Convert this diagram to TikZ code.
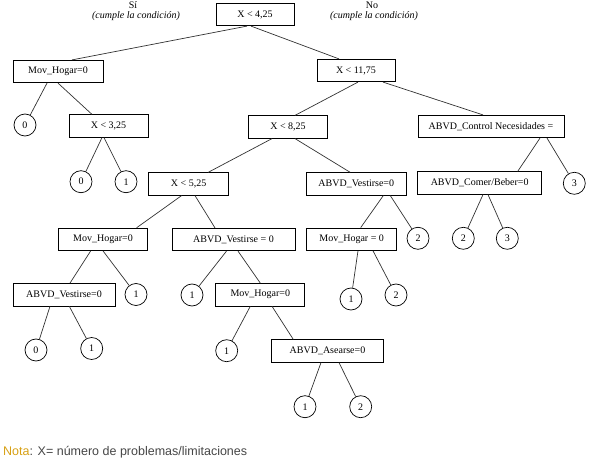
\documentclass[tikz,border=0pt]{standalone}
\usepackage{fontspec}
\setmainfont{Liberation Serif}
\newfontfamily\notefont{Liberation Sans}
\usepackage{xcolor}
\usetikzlibrary{positioning}
\definecolor{notecolor}{RGB}{215, 160, 20}
\definecolor{notegray}{RGB}{70, 70, 70}
\definecolor{edgegray}{RGB}{50, 50, 50}

\begin{document}
\begin{tikzpicture}[
    x=1pt, y=-1pt,
    cond/.style={draw, rectangle, line width=0.7pt, minimum height=22.5pt, inner sep=1pt, font=\fontsize{10}{12}\selectfont},
    leaf/.style={draw, circle, line width=0.7pt, minimum size=22pt, inner sep=0pt, font=\fontsize{10}{12}\selectfont},
    edge/.style={draw=edgegray, line width=0.7pt},
    side/.style={font=\fontsize{10}{12}\selectfont\itshape}
]
    \useasboundingbox (0,0) rectangle (590,460);

    % Branch labels
    \node[font=\fontsize{10}{12}\selectfont, inner sep=0pt] (si) at (133, 5) {Sí};
    \node[side] (siexp) at (136, 16) {(cumple la condición)};
    \node[font=\fontsize{10}{12}\selectfont, inner sep=0pt] (no) at (372, 5) {No};
    \node[side] (noexp) at (374, 16) {(cumple la condición)};

    % Decision nodes
    \node[cond, minimum width=78pt] (root) at (255, 14.5) {X < 4,25};
    \node[cond, minimum width=90pt] (mov1) at (58, 71.5) {Mov\_Hogar=0};
    \node[cond, minimum width=78pt] (xa) at (356, 70.5) {X < 11,75};
    \node[cond, minimum width=79pt] (xb) at (108.5, 126) {X < 3,25};
    \node[cond, minimum width=79pt] (xc) at (288, 127) {X < 8,25};
    \node[cond, minimum width=146pt] (ctl) at (491, 126.5) {ABVD\_Control Necesidades =};
    \node[cond, minimum width=80pt] (xd) at (188.6, 184) {X < 5,25};
    \node[cond, minimum width=100pt] (vr) at (356.3, 184) {ABVD\_Vestirse=0};
    \node[cond, minimum width=124pt] (comer) at (479.7, 183) {ABVD\_Comer/Beber=0};
    \node[cond, minimum width=89pt] (movl) at (103, 239.3) {Mov\_Hogar=0};
    \node[cond, minimum width=123pt] (vl) at (233.5, 239.5) {ABVD\_Vestirse = 0};
    \node[cond, minimum width=90pt] (movr) at (351.7, 239.2) {Mov\_Hogar = 0};
    \node[cond, minimum width=102pt] (vll) at (64, 294.7) {ABVD\_Vestirse=0};
    \node[cond, minimum width=89pt] (movll) at (260.3, 294.7) {Mov\_Hogar=0};
    \node[cond, minimum width=112pt] (ase) at (327.5, 351) {ABVD\_Asearse=0};

    % Leaves
    \node[leaf] (lf0a) at (25, 125) {0};
    \node[leaf] (lf0b) at (81, 181.7) {0};
    \node[leaf] (lf1a) at (126, 181.7) {1};
    \node[leaf] (lf3a) at (574.3, 183.3) {3};
    \node[leaf] (lf2a) at (418, 238.3) {2};
    \node[leaf] (lf2b) at (463.3, 238.3) {2};
    \node[leaf] (lf3b) at (507.3, 238.3) {3};
    \node[leaf] (lf1b) at (136, 294.5) {1};
    \node[leaf] (lf1c) at (192, 295) {1};
    \node[leaf] (lf1d) at (351, 299) {1};
    \node[leaf] (lf2c) at (396, 295) {2};
    \node[leaf] (lf0c) at (36, 350) {0};
    \node[leaf] (lf1e) at (91.7, 348.5) {1};
    \node[leaf] (lf1f) at (226.7, 350.7) {1};
    \node[leaf] (lf1g) at (305, 406.7) {1};
    \node[leaf] (lf2d) at (360.7, 406.7) {2};

    % Branches between decision nodes
    \foreach \p/\ps/\c/\cs in {root/-8/mov1/14, root/-4/xa/-17, mov1/0/xb/-16.5,
        xa/2/xc/7, xa/27/ctl/-8, xc/-16/xd/19.5, xc/7/vr/-6, ctl/49/comer/38,
        xd/-7/movl/33.7, xd/6.4/vl/-18.5, vr/27/movr/9, movl/-12.3/vll/6,
        vl/4.5/movll/0, movll/11.7/ase/-34.2}
        \draw[edge] ([xshift=\ps pt]\p.south) -- ([xshift=\cs pt]\c.north);

    % Branches to leaves
    \foreach \p/\ps/\c in {mov1/-11/lf0a, xb/-6.5/lf0b, xb/-4.5/lf1a, ctl/56/lf3a,
        vr/34/lf2a, comer/3.3/lf2b, comer/8.3/lf3b, movl/0/lf1b, vl/-7/lf1c,
        movr/6.3/lf1d, movr/21.3/lf2c, vll/-14/lf0c, vll/5.3/lf1e,
        movll/-10/lf1f, ase/-6.5/lf1g, ase/11.5/lf2d}
        \draw[edge] ([xshift=\ps pt]\p.south) -- (\c);

    % Note
    \node[anchor=west, inner sep=0pt, font=\notefont\fontsize{12.5}{15}\selectfont, text=notegray] (nota) at (3, 452)
        {\textcolor{notecolor}{Nota}: X= número de problemas/limitaciones};

\end{tikzpicture}
\end{document}
